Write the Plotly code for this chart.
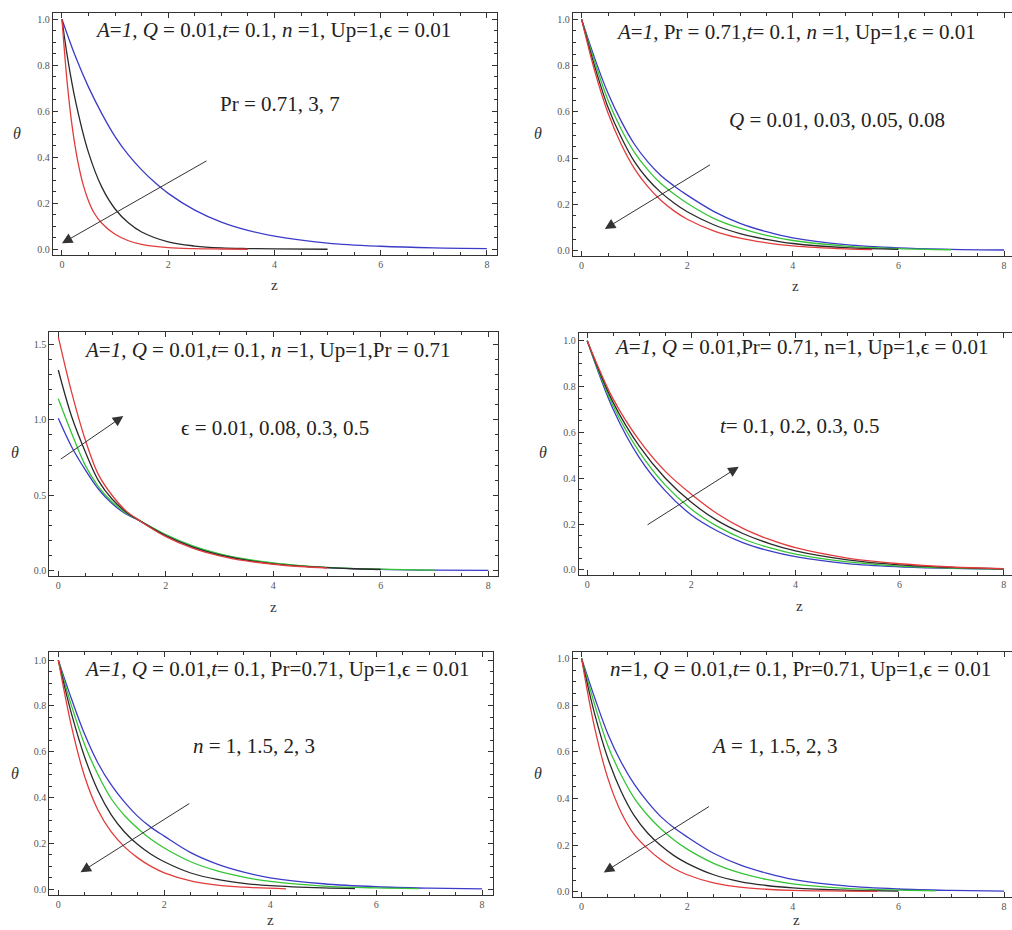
import plotly.graph_objects as go

W, H = 1012, 930

# ---------------- data ----------------
# Panel 1: Pr = 0.71 (blue), 3 (black), 7 (red)
p1_z_blue = [0, 0.25, 0.5, 0.75, 1, 1.25, 1.5, 1.75, 2, 2.5, 3, 3.5, 4, 5, 6, 7, 8]
p1_th_blue = [1.0, 0.84, 0.705, 0.59, 0.49, 0.41, 0.345, 0.29, 0.243, 0.17, 0.118, 0.082, 0.057, 0.027, 0.013, 0.006, 0.003]
p1_z_black = [0, 0.1, 0.25, 0.5, 0.75, 1, 1.25, 1.5, 2, 2.5, 3, 3.5, 4, 5]
p1_th_black = [1.0, 0.84, 0.65, 0.42, 0.27, 0.175, 0.115, 0.075, 0.032, 0.014, 0.006, 0.003, 0.0012, 0.0]
p1_z_red = [0, 0.1, 0.2, 0.3, 0.4, 0.5, 0.6, 0.75, 1, 1.25, 1.5, 2, 2.5, 3, 3.5]
p1_th_red = [1.0, 0.72, 0.52, 0.38, 0.28, 0.21, 0.16, 0.113, 0.065, 0.037, 0.021, 0.007, 0.0025, 0.001, 0.0]

# Panel 2: Q = 0.01 (blue), 0.03 (green), 0.05 (black), 0.08 (red)
p2_z_blue = [0, 0.25, 0.5, 0.75, 1, 1.25, 1.5, 1.75, 2, 2.5, 3, 3.5, 4, 5, 6, 7, 8]
p2_th_blue = [1.0, 0.83, 0.68, 0.56, 0.46, 0.385, 0.325, 0.28, 0.24, 0.17, 0.118, 0.082, 0.055, 0.026, 0.012, 0.006, 0.003]
p2_z_green = [0, 0.25, 0.5, 0.75, 1, 1.25, 1.5, 1.75, 2, 2.5, 3, 3.5, 4, 5, 6, 7]
p2_th_green = [1.0, 0.815, 0.65, 0.525, 0.425, 0.35, 0.29, 0.245, 0.205, 0.14, 0.097, 0.066, 0.044, 0.02, 0.009, 0.004]
p2_z_black = [0, 0.25, 0.5, 0.75, 1, 1.25, 1.5, 1.75, 2, 2.5, 3, 3.5, 4, 5, 6]
p2_th_black = [1.0, 0.795, 0.62, 0.49, 0.385, 0.31, 0.252, 0.206, 0.168, 0.112, 0.074, 0.049, 0.031, 0.013, 0.006]
p2_z_red = [0, 0.25, 0.5, 0.75, 1, 1.25, 1.5, 1.75, 2, 2.5, 3, 3.5, 4, 5, 5.5]
p2_th_red = [1.0, 0.775, 0.595, 0.46, 0.355, 0.278, 0.218, 0.172, 0.136, 0.086, 0.054, 0.034, 0.021, 0.008, 0.005]

# Panel 3: eps = 0.01 (blue), 0.08 (green), 0.3 (black), 0.5 (red)
p3_z_blue = [0, 0.25, 0.5, 0.75, 1, 1.25, 1.5, 2, 2.5, 3, 3.5, 4, 4.5, 5, 6, 7, 8]
p3_th_blue = [1.01, 0.82, 0.67, 0.54, 0.445, 0.378, 0.333, 0.236, 0.162, 0.108, 0.073, 0.049, 0.032, 0.021, 0.009, 0.004, 0.002]
p3_z_green = [0, 0.25, 0.5, 0.75, 1, 1.25, 1.5, 2, 2.5, 3, 3.5, 4, 4.5, 5, 6, 7]
p3_th_green = [1.14, 0.91, 0.7, 0.555, 0.455, 0.385, 0.335, 0.24, 0.165, 0.112, 0.076, 0.051, 0.034, 0.022, 0.01, 0.004]
p3_z_black = [0, 0.25, 0.5, 0.75, 1, 1.25, 1.5, 2, 2.5, 3, 3.5, 4, 4.5, 5, 5.5, 6]
p3_th_black = [1.33, 1.02, 0.79, 0.595, 0.475, 0.393, 0.335, 0.232, 0.157, 0.105, 0.07, 0.046, 0.03, 0.02, 0.013, 0.008]
p3_z_red = [0, 0.25, 0.5, 0.75, 1, 1.25, 1.5, 2, 2.5, 3, 3.5, 4, 4.5, 5]
p3_th_red = [1.55, 1.18, 0.87, 0.635, 0.5, 0.40, 0.335, 0.226, 0.15, 0.099, 0.065, 0.043, 0.028, 0.018]

# Panel 4: t = 0.1 (blue), 0.2 (green), 0.3 (black), 0.5 (red)
p4_z = [0, 0.5, 1, 1.5, 2, 2.5, 3, 3.5, 4, 5, 6, 7, 8]
p4_th_blue = [1.0, 0.70, 0.49, 0.345, 0.24, 0.17, 0.118, 0.083, 0.058, 0.028, 0.014, 0.007, 0.003]
p4_th_green = [1.0, 0.715, 0.515, 0.37, 0.265, 0.19, 0.135, 0.097, 0.069, 0.035, 0.017, 0.008, 0.004]
p4_th_black = [1.0, 0.73, 0.54, 0.40, 0.295, 0.215, 0.158, 0.115, 0.083, 0.044, 0.022, 0.011, 0.005]
p4_th_red = [1.0, 0.745, 0.565, 0.43, 0.33, 0.245, 0.18, 0.133, 0.097, 0.052, 0.027, 0.013, 0.006]

# Panel 5: n = 1 (blue), 1.5 (green), 2 (black), 3 (red)
p5_z_blue = [0, 0.25, 0.5, 0.75, 1, 1.25, 1.5, 1.75, 2, 2.5, 3, 3.5, 4, 5, 6, 7, 8]
p5_th_blue = [1.0, 0.83, 0.675, 0.55, 0.455, 0.38, 0.318, 0.27, 0.232, 0.16, 0.11, 0.075, 0.05, 0.024, 0.011, 0.005, 0.002]
p5_z_green = [0, 0.25, 0.5, 0.75, 1, 1.25, 1.5, 1.75, 2, 2.5, 3, 3.5, 4, 5, 6, 6.8]
p5_th_green = [1.0, 0.8, 0.63, 0.5, 0.395, 0.322, 0.265, 0.218, 0.18, 0.12, 0.08, 0.053, 0.034, 0.014, 0.006, 0.003]
p5_z_black = [0, 0.25, 0.5, 0.75, 1, 1.25, 1.5, 1.75, 2, 2.5, 3, 3.5, 4, 5, 5.6]
p5_th_black = [1.0, 0.765, 0.575, 0.43, 0.325, 0.25, 0.195, 0.153, 0.12, 0.071, 0.043, 0.026, 0.016, 0.006, 0.003]
p5_z_red = [0, 0.25, 0.5, 0.75, 1, 1.25, 1.5, 1.75, 2, 2.5, 3, 3.5, 4.3]
p5_th_red = [1.0, 0.71, 0.49, 0.345, 0.25, 0.185, 0.137, 0.1, 0.072, 0.037, 0.018, 0.009, 0.002]

# Panel 6: A = 1 (blue), 1.5 (green), 2 (black), 3 (red)
p6_z_blue = [0, 0.25, 0.5, 0.75, 1, 1.25, 1.5, 1.75, 2, 2.5, 3, 3.5, 4, 5, 6, 7, 8]
p6_th_blue = [1.0, 0.83, 0.675, 0.555, 0.46, 0.385, 0.322, 0.274, 0.235, 0.165, 0.115, 0.08, 0.053, 0.025, 0.012, 0.006, 0.003]
p6_z_green = [0, 0.25, 0.5, 0.75, 1, 1.25, 1.5, 1.75, 2, 2.5, 3, 3.5, 4, 5, 6, 6.7]
p6_th_green = [1.0, 0.8, 0.625, 0.5, 0.4, 0.328, 0.27, 0.222, 0.183, 0.122, 0.081, 0.053, 0.034, 0.015, 0.007, 0.004]
p6_z_black = [0, 0.25, 0.5, 0.75, 1, 1.25, 1.5, 1.75, 2, 2.5, 3, 3.5, 4, 5, 6]
p6_th_black = [1.0, 0.76, 0.57, 0.43, 0.325, 0.252, 0.198, 0.155, 0.122, 0.073, 0.044, 0.027, 0.017, 0.007, 0.003]
p6_z_red = [0, 0.25, 0.5, 0.75, 1, 1.25, 1.5, 1.75, 2, 2.5, 3, 3.5, 4, 4.5, 5, 5.6]
p6_th_red = [1.0, 0.7, 0.485, 0.34, 0.245, 0.185, 0.137, 0.1, 0.073, 0.038, 0.02, 0.011, 0.006, 0.004, 0.003, 0.002]

top_texts = [
    "<i>A</i>=<i>1</i>, <i>Q</i> = 0.01,<i>t</i>= 0.1, <i>n</i> =1, Up=1,ϵ = 0.01",
    "<i>A</i>=<i>1</i>, Pr = 0.71,<i>t</i>= 0.1, <i>n</i> =1, Up=1,ϵ = 0.01",
    "<i>A</i>=<i>1</i>, <i>Q</i> = 0.01,<i>t</i>= 0.1, <i>n</i> =1, Up=1,Pr = 0.71",
    "<i>A</i>=<i>1</i>, <i>Q</i> = 0.01,Pr= 0.71, n=1, Up=1,ϵ = 0.01",
    "<i>A</i>=<i>1</i>, <i>Q</i> = 0.01,<i>t</i>= 0.1, Pr=0.71, Up=1,ϵ = 0.01",
    "<i>n</i>=1, <i>Q</i> = 0.01,<i>t</i>= 0.1, Pr=0.71, Up=1,ϵ = 0.01",
]
param_texts = [
    "Pr = 0.71, 3, 7",
    "<i>Q</i> = 0.01, 0.03, 0.05, 0.08",
    "ϵ = 0.01, 0.08, 0.3, 0.5",
    "<i>t</i>= 0.1, 0.2, 0.3, 0.5",
    "<i>n</i> = 1, 1.5, 2, 3",
    "<i>A</i> = 1, 1.5, 2, 3",
]

# ---------------- styling / geometry ----------------
RED = "#e23b3b"
BLACK = "#2a2a2a"
GREEN = "#35c435"
BLUE = "#3b3bc8"

curves = [
    [(p1_z_blue, p1_th_blue, BLUE), (p1_z_black, p1_th_black, BLACK), (p1_z_red, p1_th_red, RED)],
    [(p2_z_blue, p2_th_blue, BLUE), (p2_z_green, p2_th_green, GREEN), (p2_z_black, p2_th_black, BLACK), (p2_z_red, p2_th_red, RED)],
    [(p3_z_blue, p3_th_blue, BLUE), (p3_z_green, p3_th_green, GREEN), (p3_z_black, p3_th_black, BLACK), (p3_z_red, p3_th_red, RED)],
    [(p4_z, p4_th_blue, BLUE), (p4_z, p4_th_green, GREEN), (p4_z, p4_th_black, BLACK), (p4_z, p4_th_red, RED)],
    [(p5_z_blue, p5_th_blue, BLUE), (p5_z_green, p5_th_green, GREEN), (p5_z_black, p5_th_black, BLACK), (p5_z_red, p5_th_red, RED)],
    [(p6_z_blue, p6_th_blue, BLUE), (p6_z_green, p6_th_green, GREEN), (p6_z_black, p6_th_black, BLACK), (p6_z_red, p6_th_red, RED)],
]

# frame pixel boxes (left, top, right, bottom)
boxes = [
    (53, 13.3, 497, 255),
    (573, 13.3, 1012, 256),
    (49.3, 331.7, 498, 576),
    (579, 332.7, 1012, 575),
    (49.3, 652.3, 492.7, 895),
    (572.7, 652.3, 1012, 896.7),
]
xranges = [(-0.169, 8.19), (-0.163, 8.15), (-0.167, 8.18), (-0.158, 8.16), (-0.17, 8.2), (-0.168, 8.15)]
yranges = [(-0.025, 1.026), (-0.023, 1.026), (-0.035, 1.584), (-0.022, 1.035), (-0.025, 1.034), (-0.021, 1.026)]

top_pos = [(3.97, 0.953), (4.06, 0.947), (3.9, 1.463), (4.11, 0.974), (4.13, 0.961), (4.15, 0.955)]
param_pos = [(4.1, 0.632), (4.83, 0.565), (4.03, 0.946), (4.08, 0.628), (3.69, 0.625), (3.64, 0.625)]
arrows = [  # tail (z, th) -> head (z, th)
    ((2.75, 0.388), (0.0, 0.026)),
    ((2.46, 0.375), (0.44, 0.094)),
    ((0.02, 0.733), (1.21, 1.025)),
    ((1.13, 0.193), (2.91, 0.45)),
    ((2.5, 0.378), (0.42, 0.074)),
    ((2.44, 0.369), (0.42, 0.083)),
]
theta_pos = [(17, 133), (538, 133), (15, 453), (543, 453), (15, 773), (538, 773)]
z_pos = [(274, 285), (795, 286), (273, 607), (799, 606), (270, 920), (796, 920)]

fig = go.Figure()
SERIF = "Liberation Serif, Times New Roman, serif"
annotations = []

for i in range(6):
    k = i + 1
    xa = "x" if k == 1 else f"x{k}"
    ya = "y" if k == 1 else f"y{k}"
    for zs, ths, col in curves[i]:
        fig.add_trace(go.Scatter(x=zs, y=ths, mode="lines", xaxis=xa, yaxis=ya,
                                 line=dict(color=col, width=1.3, shape="spline", smoothing=1.0),
                                 showlegend=False, hoverinfo="skip"))
    l, t, r, b = boxes[i]
    right_panel = (i % 2 == 1)
    ymaj = 0.5 if i == 2 else 0.2
    ymin = 0.1 if i == 2 else 0.05
    fig.layout[f"xaxis{'' if k == 1 else k}"] = dict(
        domain=[l / W, r / W], range=list(xranges[i]), anchor=ya,
        showline=True, linecolor="#333", linewidth=1.3, mirror="allticks",
        ticks="inside", ticklen=5, tickwidth=1, tickcolor="#333",
        tick0=0, dtick=2, showgrid=False, zeroline=False,
        tickfont=dict(family=SERIF, size=10, color="#555"),
        minor=dict(ticks="inside", ticklen=3, tickwidth=0.8, tickcolor="#333", dtick=0.5, tick0=0, showgrid=False),
    )
    fig.layout[f"yaxis{'' if k == 1 else k}"] = dict(
        domain=[1 - b / H, 1 - t / H], range=list(yranges[i]), anchor=xa,
        showline=True, linecolor="#333", linewidth=1.3,
        mirror=False if right_panel else "allticks",
        ticks="inside", ticklen=5, tickwidth=1, tickcolor="#333",
        tick0=0, dtick=ymaj, tickformat=".1f", showgrid=False, zeroline=False,
        tickfont=dict(family=SERIF, size=10, color="#555"),
        minor=dict(ticks="inside", ticklen=3, tickwidth=0.8, tickcolor="#333", dtick=ymin, tick0=0, showgrid=False),
    )
    annotations.append(dict(x=top_pos[i][0], y=top_pos[i][1], xref=xa, yref=ya, text=top_texts[i],
                            showarrow=False, font=dict(family=SERIF, size=21, color="#222"),
                            xanchor="center", yanchor="middle"))
    annotations.append(dict(x=param_pos[i][0], y=param_pos[i][1], xref=xa, yref=ya, text=param_texts[i],
                            showarrow=False, font=dict(family=SERIF, size=21, color="#222"),
                            xanchor="center", yanchor="middle"))
    (tz, tth), (hz, hth) = arrows[i]
    annotations.append(dict(x=hz, y=hth, ax=tz, ay=tth, xref=xa, yref=ya, axref=xa, ayref=ya,
                            text="", showarrow=True, arrowhead=2, arrowsize=2.1, arrowwidth=1,
                            arrowcolor="#333"))
    annotations.append(dict(x=theta_pos[i][0] / W, y=1 - theta_pos[i][1] / H, xref="paper", yref="paper",
                            text="<i>θ</i>", showarrow=False,
                            font=dict(family=SERIF, size=16, color="#333"), xanchor="center", yanchor="middle"))
    annotations.append(dict(x=z_pos[i][0] / W, y=1 - z_pos[i][1] / H, xref="paper", yref="paper",
                            text="z", showarrow=False,
                            font=dict(family=SERIF, size=15, color="#333"), xanchor="center", yanchor="middle"))

fig.update_layout(width=W, height=H, margin=dict(l=0, r=0, t=0, b=0),
                  paper_bgcolor="white", plot_bgcolor="white", annotations=annotations,
                  showlegend=False)

fig.write_html("out.html", config={"displayModeBar": False},
               post_script="document.body.style.margin='0';document.body.style.padding='0';document.body.style.overflow='hidden';")
